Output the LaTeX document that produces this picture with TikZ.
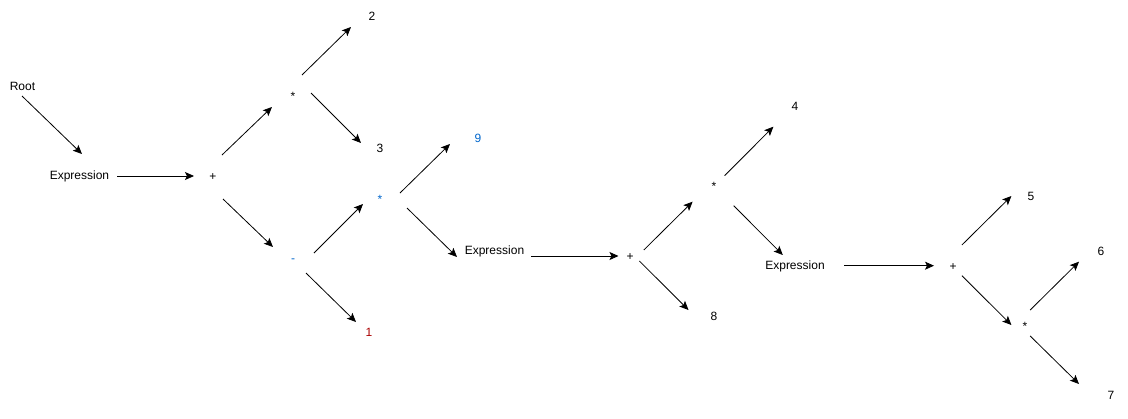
\documentclass[tikz,border=0pt]{standalone}
\usepackage{fontspec}
\setmainfont{Liberation Sans}
\usetikzlibrary{arrows.meta,scopes}
\definecolor{opblue}{RGB}{0,102,204}
\definecolor{numred}{RGB}{170,0,0}

\begin{document}
\begin{tikzpicture}[
    x=1pt,y=-1pt,
    arr/.style={-{Stealth[length=9pt,width=8pt,inset=2pt]},draw=black,line width=0.8pt},
    t/.style={inner sep=0pt,text height=8.6pt,text depth=2.5pt,font=\fontsize{12}{14}\selectfont},
]
    \useasboundingbox (0,0) rectangle (1128,418);
    % labels
    \node[t] (root) at (22.5,87) {Root};
    \node[t] (expr1) at (79.5,176.5) {Expression};
    \node[t] (plus1) at (213,177) {+};
    \node[t] (star1) at (293,97) {*};
    \node[t,opblue] (minus) at (293,259) {-};
    \node[t] (n2) at (372,17) {2};
    \node[t] (n3) at (380,149) {3};
    \node[t,opblue] (star2) at (380,200) {*};
    \node[t,numred] (n1) at (369,333) {1};
    \node[t,opblue] (n9) at (478,139) {9};
    \node[t] (expr2) at (494.5,251) {Expression};
    \node[t] (plus2) at (630,257) {+};
    \node[t] (star3) at (714,187) {*};
    \node[t] (n4) at (795,107) {4};
    \node[t] (n8) at (714,317) {8};
    \node[t] (expr3) at (795,266) {Expression};
    \node[t] (plus3) at (953,267) {+};
    \node[t] (n5) at (1031,197) {5};
    \node[t] (star4) at (1025,327) {*};
    \node[t] (n6) at (1101,252) {6};
    \node[t] (n7) at (1111,396) {7};
    % arrows
    {[arr]
        \draw ([shift={(-0.5,9)}]root.center) -- ([shift={(2.5,-22.5)}]expr1.center);
        \draw ([shift={(37.5,-0.5)}]expr1.center) -- ([shift={(-19,-1)}]plus1.center);
        \draw ([shift={(9,-22)}]plus1.center) -- ([shift={(-21,10)}]star1.center);
        \draw ([shift={(10,22)}]plus1.center) -- ([shift={(-20,-12)}]minus.center);
        \draw ([shift={(9,-22)}]star1.center) -- ([shift={(-21,10)}]n2.center);
        \draw ([shift={(18,-4)}]star1.center) -- ([shift={(-19,-6)}]n3.center);
        \draw ([shift={(21,-6)}]minus.center) -- ([shift={(-17,4)}]star2.center);
        \draw ([shift={(13,14)}]minus.center) -- ([shift={(-13,-11)}]n1.center);
        \draw ([shift={(20,-7)}]star2.center) -- ([shift={(-28,5)}]n9.center);
        \draw ([shift={(27,8)}]star2.center) -- ([shift={(-37.5,6)}]expr2.center);
        \draw ([shift={(36.5,5)}]expr2.center) -- ([shift={(-11.5,-1)}]plus2.center);
        \draw ([shift={(13.8,-7)}]plus2.center) -- ([shift={(-21.4,14.7)}]star3.center);
        \draw ([shift={(9.4,4)}]plus2.center) -- ([shift={(-25.5,-7)}]n8.center);
        \draw ([shift={(10.6,-11.3)}]star3.center) -- ([shift={(-21.6,19.7)}]n4.center);
        \draw ([shift={(19.7,18.7)}]star3.center) -- ([shift={(-12.2,-11)}]expr3.center);
        \draw ([shift={(49,-0.3)}]expr3.center) -- ([shift={(-19,-1.3)}]plus3.center);
        \draw ([shift={(8.9,-22)}]plus3.center) -- ([shift={(-19.6,-1)}]n5.center);
        \draw ([shift={(8.9,8.7)}]plus3.center) -- ([shift={(-13.6,-2)}]star4.center);
        \draw ([shift={(5.2,-17)}]star4.center) -- ([shift={(-22,9.7)}]n6.center);
        \draw ([shift={(5.2,9)}]star4.center) -- ([shift={(-32,-12)}]n7.center);
    }
\end{tikzpicture}
\end{document}
